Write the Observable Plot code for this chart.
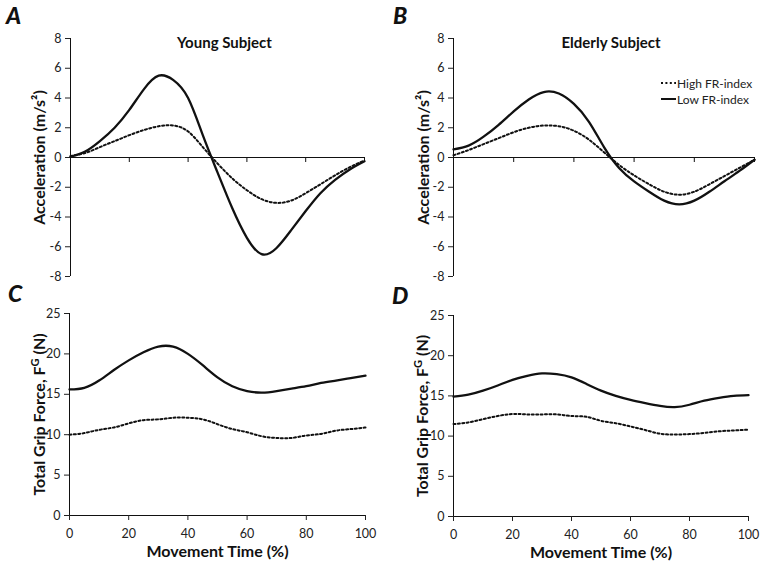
<!DOCTYPE html>
<html>
<head>
<meta charset="utf-8">
<script src="https://cdn.jsdelivr.net/npm/d3@7"></script>
<script src="https://cdn.jsdelivr.net/npm/@observablehq/plot@0.6"></script>
<style>
  html, body { margin: 0; padding: 0; background: #fff; }
  #fig { position: relative; width: 762px; height: 563px; font-family: Lato, "Open Sans", sans-serif; background: #fff; overflow: hidden; }
  .panel { position: absolute; }
  .letter { position: absolute; font: italic 900 23px/23px Lato, sans-serif; color: #111; }
  .legend { position: absolute; font: 12px Lato, sans-serif; color: #222; }
  .legend .row { display: flex; align-items: center; height: 16px; white-space: nowrap; }
  .legend svg { display: block; margin-right: 1px; }
</style>
</head>
<body>
<div id="fig"></div>
<script>
// ---------------- data ----------------
const movementTime = [0, 5, 10, 15, 20, 25, 30, 35, 40, 45, 50, 55, 60, 65, 70, 75, 80, 85, 90, 95, 100];

const accYoungHigh = [0.1, 0.3, 0.7, 1.1, 1.5, 1.85, 2.1, 2.15, 1.75, 0.7, -0.4, -1.4, -2.2, -2.8, -3.05, -2.9, -2.4, -1.8, -1.2, -0.65, -0.2];
const accYoungLow  = [0.05, 0.4, 1.1, 2.0, 3.2, 4.6, 5.5, 5.2, 4.0, 1.5, -1.0, -3.4, -5.4, -6.5, -6.1, -4.9, -3.6, -2.4, -1.5, -0.8, -0.25];

const accElderlyHigh = [0.15, 0.5, 0.9, 1.3, 1.7, 2.0, 2.15, 2.1, 1.8, 1.2, 0.35, -0.5, -1.2, -1.8, -2.3, -2.5, -2.3, -1.8, -1.25, -0.7, -0.15];
const accElderlyLow  = [0.55, 0.8, 1.4, 2.2, 3.1, 3.9, 4.4, 4.3, 3.6, 2.4, 0.7, -0.7, -1.6, -2.3, -2.9, -3.15, -2.9, -2.3, -1.6, -0.9, -0.15];

const gripYoungHigh = [10.0, 10.2, 10.6, 10.9, 11.4, 11.8, 11.9, 12.1, 12.1, 11.9, 11.3, 10.7, 10.3, 9.8, 9.6, 9.6, 9.9, 10.1, 10.5, 10.7, 10.9];
const gripYoungLow  = [15.6, 15.8, 16.7, 18.0, 19.2, 20.2, 20.9, 20.9, 20.0, 18.6, 17.1, 16.0, 15.4, 15.2, 15.4, 15.7, 16.0, 16.4, 16.7, 17.0, 17.3];

const gripElderlyHigh = [11.5, 11.7, 12.1, 12.5, 12.75, 12.7, 12.7, 12.7, 12.5, 12.4, 11.9, 11.6, 11.2, 10.75, 10.3, 10.2, 10.25, 10.4, 10.6, 10.7, 10.8];
const gripElderlyLow  = [14.9, 15.15, 15.65, 16.3, 17.0, 17.5, 17.8, 17.7, 17.3, 16.5, 15.65, 15.0, 14.5, 14.1, 13.75, 13.6, 13.9, 14.4, 14.75, 15.0, 15.1];

const accTicks  = [-8, -6, -4, -2, 0, 2, 4, 6, 8];
const gripTicks = [0, 5, 10, 15, 20, 25];
const timeTicks = [0, 20, 40, 60, 80, 100];

const seriesNames = ["High FR-index", "Low FR-index"];
const titles = ["Young Subject", "Elderly Subject"];
const panelLetters = ["A", "B", "C", "D"];
const accLabel = "Acceleration (m/s²)";
const gripLabelMain = "Total Grip Force, F";
const gripLabelSup = "G";
const gripLabelEnd = " (N)";
const xLabel = "Movement Time (%)";

// ---------------- helpers ----------------
const toRows = (vals) => movementTime.map((t, i) => ({t, v: vals[i]}));
const fig = document.getElementById("fig");
const DOT = "2,2.4";

function makePanel(cfg) {
  const {left, top, width, height, margin, yDomain, yTicks, high, low, title, titleDx, ylabel, ylabelDx, bottomAxis} = cfg;
  const marks = [];
  marks.push(Plot.ruleX([0], {stroke: "#111", strokeWidth: 1}));
  marks.push(Plot.axisY(yTicks, {tickSize: 5, tickPadding: 4, fontSize: 12.5, label: null, tickFormat: d => String(d)}));
  marks.push(Plot.ruleY([0], {stroke: "#111", strokeWidth: 1}));
  if (bottomAxis) {
    marks.push(Plot.axisX(timeTicks, {tickSize: 5, tickPadding: 9, fontSize: 12.5, label: null}));
    marks.push(Plot.text([xLabel], {frameAnchor: "bottom", dy: 36, fontSize: 16, fontWeight: "bold", fill: "#111", lineAnchor: "middle"}));
  } else {
    marks.push(Plot.ruleX(timeTicks.slice(1), {y1: 0, y2: 0, insetBottom: -5, stroke: "#111"}));
  }
  marks.push(Plot.line(toRows(high), {x: "t", y: "v", curve: "natural", stroke: "#111", strokeWidth: 2, strokeDasharray: DOT}));
  marks.push(Plot.line(toRows(low), {x: "t", y: "v", curve: "natural", stroke: "#111", strokeWidth: 2.3}));
  if (title) {
    marks.push(Plot.text([title], {frameAnchor: "top", dx: titleDx, dy: 5, fontSize: 15, fontWeight: "bold", fill: "#111", lineAnchor: "middle"}));
  }
  marks.push(Plot.text([ylabel], {frameAnchor: "left", dx: ylabelDx, rotate: -90, fontSize: 16, fontWeight: "bold", fill: "#111", lineAnchor: "middle", textAnchor: "middle"}));

  const svg = Plot.plot({
    width, height,
    marginLeft: margin[3], marginRight: margin[1], marginTop: margin[0], marginBottom: margin[2],
    x: {domain: [0, 100], axis: null},
    y: {domain: yDomain, axis: null},
    style: {fontFamily: "Lato, 'Open Sans', sans-serif", fontSize: "12px", color: "#222", background: "transparent", overflow: "visible"},
    marks
  });
  d3.select(svg).selectAll("text").filter(function () { return this.textContent === "GRIPLABEL"; })
    .each(function () {
      const t = d3.select(this);
      t.text(null);
      t.append("tspan").text(gripLabelMain);
      t.append("tspan").attr("baseline-shift", "super").attr("font-size", "11px").text(gripLabelSup);
      t.append("tspan").text(gripLabelEnd);
    });
  const div = document.createElement("div");
  div.className = "panel";
  div.style.left = left + "px";
  div.style.top = top + "px";
  div.appendChild(svg);
  fig.appendChild(div);
}

makePanel({left: 0, top: 0, width: 381, height: 282, margin: [38, 17, 6, 70], yDomain: [-8, 8], yTicks: accTicks,
  high: accYoungHigh, low: accYoungLow, title: titles[0], titleDx: 7, ylabel: accLabel, ylabelDx: -31, bottomAxis: false});
makePanel({left: 381, top: 0, width: 381, height: 282, margin: [38, 8, 6, 72], yDomain: [-8, 8], yTicks: accTicks,
  high: accElderlyHigh, low: accElderlyLow, title: titles[1], titleDx: 7, ylabel: accLabel, ylabelDx: -30, bottomAxis: false});
makePanel({left: 0, top: 282, width: 381, height: 281, margin: [31, 16, 48, 69], yDomain: [0, 25], yTicks: gripTicks,
  high: gripYoungHigh, low: gripYoungLow, title: null, ylabel: "GRIPLABEL", ylabelDx: -30, bottomAxis: true});
makePanel({left: 381, top: 282, width: 381, height: 281, margin: [33, 14, 47, 72], yDomain: [0, 25], yTicks: gripTicks,
  high: gripElderlyHigh, low: gripElderlyLow, title: null, ylabel: "GRIPLABEL", ylabelDx: -31, bottomAxis: true});

const letterPos = [[6, 4], [393, 4], [8, 282], [392, 284]];
panelLetters.forEach((L, i) => {
  const d = document.createElement("div");
  d.className = "letter";
  d.style.left = letterPos[i][0] + "px";
  d.style.top = letterPos[i][1] + "px";
  d.textContent = L;
  fig.appendChild(d);
});

const legend = document.createElement("div");
legend.className = "legend";
legend.style.left = "660px";
legend.style.top = "75px";
seriesNames.forEach((name, i) => {
  const row = document.createElement("div");
  row.className = "row";
  const s = d3.create("svg").attr("width", 16).attr("height", 10);
  s.append("line").attr("x1", 1).attr("x2", 16).attr("y1", 5).attr("y2", 5)
    .attr("stroke", "#111").attr("stroke-width", 2)
    .attr("stroke-dasharray", i === 0 ? DOT : null);
  row.appendChild(s.node());
  const sp = document.createElement("span");
  sp.textContent = name;
  row.appendChild(sp);
  legend.appendChild(row);
});
fig.appendChild(legend);
</script>
</body>
</html>
